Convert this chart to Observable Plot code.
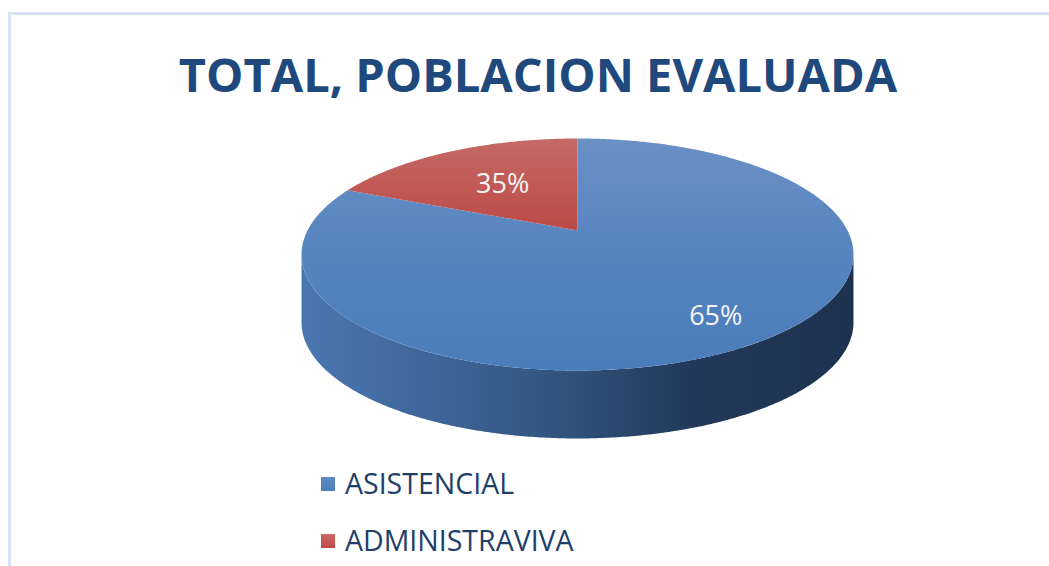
<!DOCTYPE html>
<html><head><meta charset="utf-8">
<script src="https://cdn.jsdelivr.net/npm/d3@7"></script>
<script src="https://cdn.jsdelivr.net/npm/@observablehq/plot@0.6"></script>
<style>
body{margin:0;background:#fff;}
#wrap{position:relative;width:1049px;height:566px;overflow:hidden;font-family:"Open Sans",sans-serif;background:#fff}
#frame{position:absolute;left:8px;top:12px;width:1200px;height:700px;border:3px solid #d7e3f3;box-sizing:border-box}
#title{position:absolute;left:0;width:1076px;top:51px;text-align:center;font-weight:700;font-size:47px;line-height:1;color:#1f497d;white-space:nowrap}
#chart{position:absolute;left:0;top:125px}
.leg{position:absolute;left:321px;height:30px;width:400px}
.sw{position:absolute;left:0;top:8px;width:14px;height:14px}
.lt{position:absolute;left:24px;top:0;font-size:28.5px;line-height:1;color:#1f3f6a;white-space:nowrap}
</style>
</head><body>
<div id="wrap">
  <div id="frame"></div>
  <div id="title">TOTAL, POBLACION EVALUADA</div>
  <div id="chart"></div>
  <div id="legend"></div>
</div>
<script>
// ---- data ----
const categories = ["ASISTENCIAL", "ADMINISTRAVIVA"];
const sliceShare = [81.4, 18.6];          // drawn slice sizes (%)
const labels = ["65%", "35%"];             // data labels as printed on the chart
const topFills = ["url(#topBlue)", "url(#topRed)"];
const swatchColors = ["linear-gradient(#5f8ac4,#4a7ebb)", "linear-gradient(#cb6866,#bd4a47)"];

// ---- 3D perspective geometry derived from data ----
const persp = 0.2069;   // perspective strength (back of the pie appears smaller)
const depth = 0.612;    // thickness of the pie, in y units
const total = d3.sum(sliceShare);
const rad = a => a * Math.PI / 180;
const proj = (a, r = 1, dy = 0) => {
  const s = r * Math.sin(rad(a)), c = r * Math.cos(rad(a)), k = 1 + persp * c;
  return {x: s / k, y: c / k - dy};
};
let acc = 0;
const slices = categories.map((c, i) => {
  const a0 = acc / total * 360; acc += sliceShare[i];
  const a1 = acc / total * 360;
  return {c, i, a0, a1, mid: (a0 + a1) / 2, label: labels[i]};
});
function arc(a0, a1, dy = 0) {
  const n = Math.max(2, Math.ceil((a1 - a0) / 0.5)), out = [];
  for (let k = 0; k <= n; ++k) out.push(proj(a0 + (a1 - a0) * k / n, 1, dy));
  return out;
}
const silhouette = 90 + Math.asin(persp) * 180 / Math.PI;  // where the side wall's outline is vertical
const tops = slices.map(s => [{x: 0, y: 0}, ...arc(s.a0, s.a1), {x: 0, y: 0}]);
const walls = slices.map(s => {
  const lo = Math.max(s.a0, silhouette), hi = Math.min(s.a1, 360 - silhouette);
  if (hi <= lo) return [];
  return [...arc(lo, hi), ...arc(lo, hi, depth).reverse()];
});
const labelRadius = [0.8, 0.55];
const labelPts = slices.map((s, i) => ({...proj(s.mid, labelRadius[i]), text: s.label}));

const marks = [];
walls.forEach(w => { if (w.length) marks.push(Plot.line(w, {x: "x", y: "y", fill: "url(#wallGrad)", stroke: "none"})); });
tops.forEach((t, i) => marks.push(Plot.line(t, {x: "x", y: "y", fill: topFills[i], stroke: "none"})));
marks.push(Plot.text(labelPts, {x: "x", y: "y", text: "text", fill: "#f4f4f4", fontSize: 27, fontFamily: "Open Sans"}));

const svg = Plot.plot({
  width: 1049, height: 330, margin: 0,
  x: {domain: [-1, 1], range: [307, 847], axis: null},
  y: {domain: [-1, 1], range: [216.04, -6.04], axis: null},
  style: {background: "transparent", fontFamily: "Open Sans", overflow: "visible"},
  marks
});
const ns = "http://www.w3.org/2000/svg";
const defs = document.createElementNS(ns, "defs");
function grad(id, x2, y2, stops) {
  const g = document.createElementNS(ns, "linearGradient");
  g.setAttribute("id", id);
  g.setAttribute("x1", "0"); g.setAttribute("y1", "0");
  g.setAttribute("x2", x2); g.setAttribute("y2", y2);
  stops.forEach(([o, c]) => {
    const s = document.createElementNS(ns, "stop");
    s.setAttribute("offset", o); s.setAttribute("stop-color", c);
    g.appendChild(s);
  });
  defs.appendChild(g);
}
grad("topBlue", "0", "1", [[0, "#6a90c5"], [0.5, "#5584bf"], [1, "#4a7dbb"]]);
grad("topRed", "0", "1", [[0, "#c46a66"], [1, "#bd4a47"]]);
grad("wallGrad", "1", "0", [[0, "#4a77b1"], [0.28, "#3d6395"], [0.5, "#2f5079"], [0.72, "#213858"], [1, "#1e3250"]]);
svg.insertBefore(defs, svg.firstChild);
document.getElementById("chart").appendChild(svg);

// ---- legend ----
const legend = document.getElementById("legend");
const legendTops = [469, 526];
categories.forEach((c, i) => {
  const d = document.createElement("div");
  d.className = "leg"; d.style.top = legendTops[i] + "px";
  const sw = document.createElement("div"); sw.className = "sw"; sw.style.background = swatchColors[i];
  const t = document.createElement("div"); t.className = "lt"; t.textContent = c;
  d.appendChild(sw); d.appendChild(t); legend.appendChild(d);
});
</script>
</body></html>
